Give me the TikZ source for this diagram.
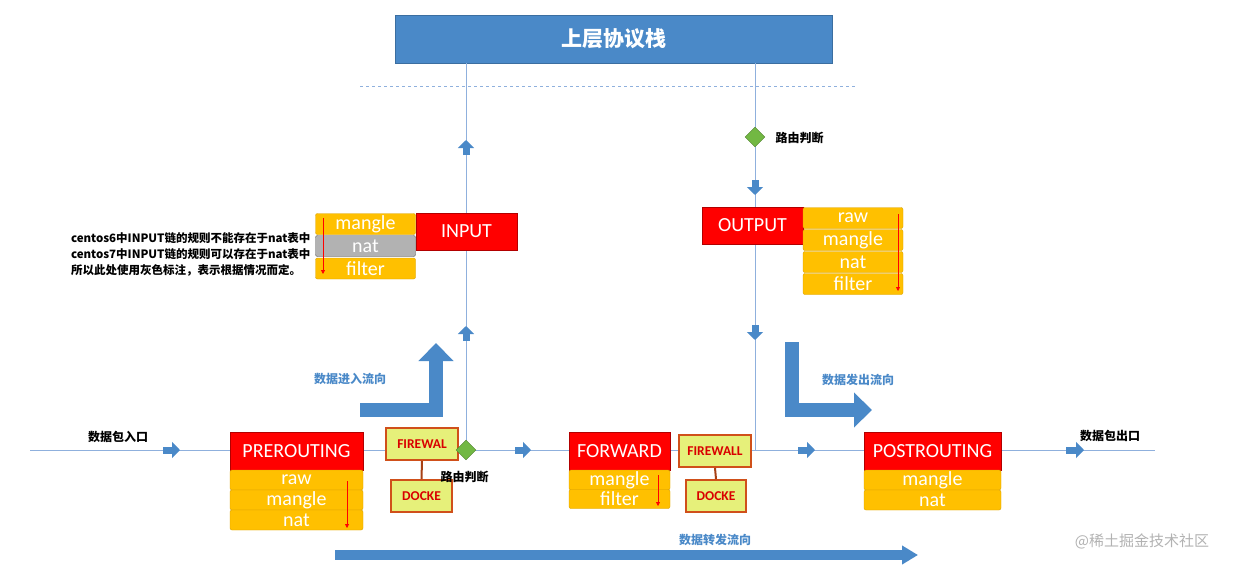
\documentclass[tikz,border=0pt]{standalone}
\usepackage{fontspec}
\setmainfont{Carlito}
\newfontfamily\cjk{Noto Sans CJK SC}
\usetikzlibrary{arrows.meta,shapes.geometric}
\definecolor{bl}{HTML}{4A89C8}
\definecolor{ln}{HTML}{8FB0DD}
\definecolor{tb}{HTML}{FFC000}
\definecolor{tbd}{HTML}{D9A000}
\definecolor{fw}{HTML}{E6F07A}
\definecolor{fwb}{HTML}{D0501A}
\definecolor{gr}{HTML}{72B843}
\begin{document}
\begin{tikzpicture}[x=1pt,y=-1pt,
 chain/.style={fill=red,draw=red!70!black,text=white,inner sep=0,font=\fontsize{20}{20}\selectfont},
 tab/.style={fill=tb,draw=tbd,rounded corners=2pt,text=white,inner sep=0,font=\fontsize{20}{20}\selectfont},
 fwbox/.style={fill=fw,draw=fwb,line width=2pt,text=red!85!black,inner sep=0,font=\bfseries\fontsize{13.5}{13.5}\selectfont},
 lbl/.style={font=\cjk\bfseries\fontsize{12}{12}\selectfont},
 blbl/.style={lbl,text=bl},
 vline/.style={draw=ln,line width=1pt},
 sarr/.style={line width=7pt,draw=bl,-{Triangle[length=8pt,width=16pt]}},
 barr/.style={line width=14pt,draw=bl,-{Triangle[length=18pt,width=34pt]}},
 dia/.style={diamond,fill=gr,draw=gr!70!black,minimum size=20pt,inner sep=0},
 rarr/.style={red,line width=0.8pt,-{Triangle[length=4pt,width=4pt]}}]
\useasboundingbox (0,0) rectangle (1240,568);
% top
\node[fill=bl,draw=bl!80!black,minimum width=437pt,minimum height=48pt,text=white,font=\cjk\bfseries\fontsize{21}{21}\selectfont] (top) at (613.5,39) {上层协议栈};
\draw[ln,dashed,line width=1pt] (360,86) -- (855,86);
\coordinate (L1) at (466,63); \coordinate (L2) at (466,450);
\coordinate (R1) at (755,63); \coordinate (R2) at (755,450);
\coordinate (H1) at (30,450); \coordinate (H2) at (1155,450);
\draw[vline] (L1) -- (L2); \draw[vline] (R1) -- (R2); \draw[vline] (H1) -- (H2);
% small arrows
\draw[sarr] (466,155) -- (466,140);
\draw[sarr] (466,341) -- (466,326);
\draw[sarr] (755,180) -- (755,195);
\draw[sarr] (755,325) -- (755,340);
\draw[sarr] (163,450) -- (180,450);
\draw[sarr] (515,450) -- (531,450);
\draw[sarr] (798,450) -- (815,450);
\draw[sarr] (1066,450) -- (1084,450);
% diamonds
\node[dia] (d1) at (755,137) {};
\node[lbl,anchor=west] (d1l) at (772,138) {路由判断};
% INPUT
\node[chain,minimum width=101pt,minimum height=37pt] (input) at (466.5,231.5) {INPUT};
\node[tab,minimum width=100pt,minimum height=21pt] (im) at (365.5,224) {mangle};
\node[tab,fill=gray!60,draw=gray!70!black,minimum width=100pt,minimum height=21pt] (in) at (365.5,246) {nat};
\node[tab,minimum width=100pt,minimum height=21pt] (if) at (365.5,268.5) {filter};
\draw[rarr] (323,218) -- (323,274);
\node[anchor=east,align=left,font=\cjk\bfseries\fontsize{11.5}{16}\selectfont] (note) at (314,254) {centos6中INPUT链的规则不能存在于nat表中\\centos7中INPUT链的规则可以存在于nat表中\\所以此处使用灰色标注，表示根据情况而定。};
% OUTPUT
\node[chain,minimum width=101pt,minimum height=37pt] (output) at (752.5,225.5) {OUTPUT};
\node[tab,minimum width=100pt,minimum height=21pt] (or) at (853,218) {raw};
\node[tab,minimum width=100pt,minimum height=21pt] (om) at (853,240) {mangle};
\node[tab,minimum width=100pt,minimum height=21pt] (on) at (853,262) {nat};
\node[tab,minimum width=100pt,minimum height=21pt] (of) at (853,284) {filter};
\draw[rarr] (898,214) -- (898,291);
% PREROUTING
\node[chain,minimum width=133pt,minimum height=38pt] (pre) at (296.5,451) {PREROUTING};
\node[tab,minimum width=133pt,minimum height=20pt] (pr) at (296.5,480) {raw};
\node[tab,minimum width=133pt,minimum height=20pt] (pm) at (296.5,500) {mangle};
\node[tab,minimum width=133pt,minimum height=20pt] (pn) at (296.5,520) {nat};
\draw[rarr] (347,481) -- (347,528);
% FORWARD
\node[chain,minimum width=101pt,minimum height=38pt] (fwd) at (619.5,451) {FORWARD};
\node[tab,minimum width=101pt,minimum height=20pt] (fm) at (619.5,480) {mangle};
\node[tab,minimum width=101pt,minimum height=19pt] (ff) at (619.5,499) {filter};
\draw[rarr] (658,475) -- (658,506);
% POSTROUTING
\node[chain,minimum width=137pt,minimum height=38pt] (post) at (932.5,451) {POSTROUTING};
\node[tab,minimum width=137pt,minimum height=20pt] (qm) at (932.5,480) {mangle};
\node[tab,minimum width=137pt,minimum height=20pt] (qn) at (932.5,500) {nat};
% firewalls
\node[fwbox,minimum width=72pt,minimum height=32pt] (fw1) at (422,444) {FIREWAL};
\node[fwbox,minimum width=61pt,minimum height=32pt] (dk1) at (421.5,496) {DOCKE};
\draw[fwb!80!black,line width=2pt] (fw1.south) -- (dk1.north);
\node[fwbox,minimum width=72pt,minimum height=32pt] (fw2) at (715,451) {FIREWALL};
\node[fwbox,minimum width=60pt,minimum height=32pt] (dk2) at (716,496) {DOCKE};
\draw[fwb!80!black,line width=2pt] (fw2.south) -- (dk2.north);
\node[dia] (d2) at (466,450) {};
\node[lbl,anchor=west] (d2l) at (437,477) {路由判断};
% labels
\node[lbl] (inl) at (118,437) {数据包入口};
\node[lbl] (outl) at (1110,436) {数据包出口};
% big arrows
\coordinate (a1) at (360,410); \coordinate (a2) at (436,410); \coordinate (a3) at (436,343);
\draw[barr] (a1) -- (a2) -- (a3);
\node[blbl] (a1l) at (350,379) {数据进入流向};
\coordinate (b1) at (792,342); \coordinate (b2) at (792,410); \coordinate (b3) at (872,410);
\draw[barr] (b1) -- (b2) -- (b3);
\node[blbl] (b1l) at (858,380) {数据发出流向};
\coordinate (c1) at (335,555); \coordinate (c2) at (918,555);
\draw[line width=10pt,draw=bl,-{Triangle[length=16pt,width=18pt]}] (c1) -- (c2);
\node[blbl] (c1l) at (715,540) {数据转发流向};
\node[font=\cjk\fontsize{15}{15}\selectfont,text=gray!60] (wm) at (1142,541) {@稀土掘金技术社区};
\end{tikzpicture}
\end{document}
